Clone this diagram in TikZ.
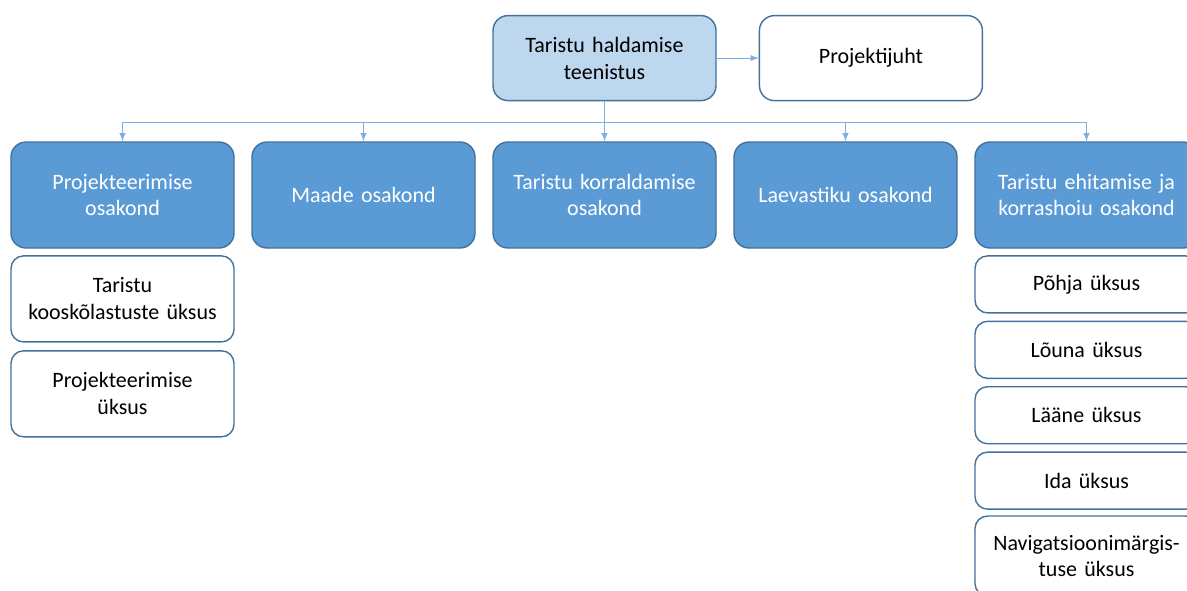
\documentclass[tikz,border=0pt]{standalone}
\usepackage{fontspec}
\setmainfont{Carlito}
\usetikzlibrary{arrows,positioning,calc}
\definecolor{raam}{HTML}{41719C}
\definecolor{sinine}{HTML}{5B9BD5}
\definecolor{helesinine}{HTML}{BDD7EE}
\definecolor{joon}{HTML}{7FAEDF}
\tikzset{
    kast/.style={
        rectangle,
        rounded corners=0.3cm,
        draw=raam,
        line width=0.8pt,
        text width=4.2cm,
        inner xsep=0.13cm,
        align=center,
        font=\fontsize{12.5}{15.3}\selectfont,
    },
    teenistus/.style={
        kast,
        fill=helesinine,
        minimum height=1.7cm,
    },
    juht/.style={
        kast,
        fill=white,
        minimum height=1.7cm,
    },
    osakond/.style={
        kast,
        fill=sinine,
        text=white,
        minimum height=2.12cm,
    },
    yksus/.style={
        kast,
        fill=white,
        rounded corners=0.25cm,
    },
    liin/.style={
        draw=joon,
        line width=0.6pt,
    },
    every edge/.style={
        liin,
        ->,>=latex,
    },
    node distance=4.82cm,
  }

\begin{document}
\begin{tikzpicture}
              \useasboundingbox (0,0) rectangle (23.74,-11.8);
              \clip (0,0) rectangle (23.74,-11.8);

              % osakonnad
              \node [osakond] (pro) at (2.45,-3.9) {Projekteerimise\\osakond};
              \node [osakond,right of=pro] (mao) {Maade osakond};
              \node [osakond,right of=mao] (tko) {Taristu korraldamise\\osakond};
              \node [osakond,right of=tko] (lao) {Laevastiku osakond};
              \node [osakond,right of=lao] (teo) {Taristu ehitamise ja\\korrashoiu osakond};

              % teenistus ja juht
              \node [teenistus,above=0.8cm of tko] (thd) {Taristu haldamise\\teenistus};
              \node [juht,right=0.84cm of thd] (pju) {Projektijuht};

              % yksused
              \node [yksus,minimum height=1.72cm,below=0.13cm of pro] (tky) {Taristu\\kooskõlastuste üksus};
              \node [yksus,minimum height=1.72cm,below=0.15cm of tky] (pry) {Projekteerimise\\üksus};
              \node [yksus,minimum height=1.14cm,below=0.13cm of teo] (py) {Põhja üksus};
              \node [yksus,minimum height=1.14cm,below=0.14cm of py] (ly) {Lõuna üksus};
              \node [yksus,minimum height=1.14cm,below=0.14cm of ly] (lay) {Lääne üksus};
              \node [yksus,minimum height=1.14cm,below=0.14cm of lay] (iy) {Ida üksus};
              \node [yksus,minimum height=1.6cm,below=0.11cm of iy] (nmy) {Navigatsioonimärgis-\\tuse üksus};

              \coordinate [below=0.42cm of thd] (bus);

              \draw (thd) edge (pju);
              \draw (thd.south) edge (tko.north);
              \draw [liin] (bus -| pro.north) -- (bus -| teo.north);
              \draw (bus -| pro.north) edge (pro.north);
              \draw (bus -| mao.north) edge (mao.north);
              \draw (bus -| lao.north) edge (lao.north);
              \draw (bus -| teo.north) edge (teo.north);

            \end{tikzpicture}
\end{document}
